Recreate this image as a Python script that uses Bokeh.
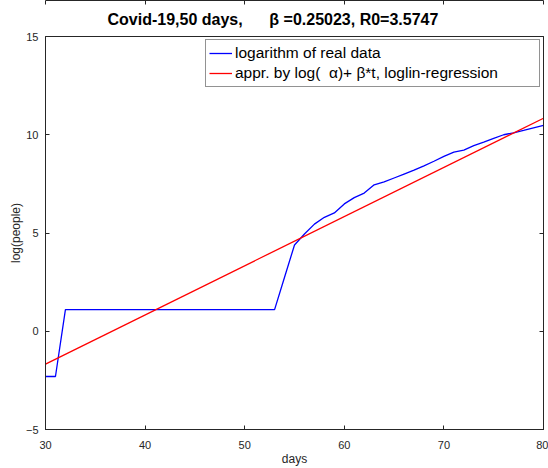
from bokeh.plotting import figure
from bokeh.models import Legend, LegendItem, LinearAxis, FixedTicker, Title
from bokeh.embed import file_html
from bokeh.resources import INLINE

# data
days = list(range(30, 81))
log_real = [-2.303, -2.303, 1.0986] + [1.0986] * 21 + [
    2.75, 4.39, 4.95, 5.45, 5.80, 6.02, 6.48, 6.80, 7.03, 7.45, 7.60,
    7.80, 8.00, 8.20, 8.42, 8.65, 8.90, 9.12, 9.22, 9.45, 9.63, 9.82,
    10.00, 10.10, 10.22, 10.35, 10.48]
fit_days = [30, 80]
fit_vals = [-1.67, 10.84]
x_ticks = [30, 40, 50, 60, 70, 80]
y_ticks = [-5, 0, 5, 10, 15]

title_text = "Covid-19,50 days,\u00a0\u00a0\u00a0\u00a0\u00a0\u00a0\u03b2 =0.25023, R0=3.5747"
legend_labels = ["logarithm of real data",
                 "appr. by log(\u00a0\u00a0\u03b1)+ \u03b2*t, loglin-regression"]

FONT = "Liberation Sans"
AX = "#262626"

p = figure(width=548, height=468, x_range=(30, 80), y_range=(-5, 15),
           output_backend="svg", toolbar_location=None,
           min_border_left=45, min_border_right=5, min_border_top=0, min_border_bottom=37)
p.title = None
t = Title(text=title_text, align="left", offset=62, text_font=FONT,
          text_font_size="16px", text_font_style="bold", text_color="black", standoff=17)
p.add_layout(t, "above")

p.grid.visible = False
p.outline_line_color = AX
p.outline_line_width = 1
p.background_fill_color = "white"
p.border_fill_color = "white"

for ax in (p.xaxis[0], p.yaxis[0]):
    ax.axis_line_color = AX
    ax.major_tick_in = 4
    ax.major_tick_out = 0
    ax.minor_tick_line_color = None
    ax.major_tick_line_color = AX
    ax.major_label_text_font = FONT
    ax.major_label_text_font_size = "11px"
    ax.major_label_text_color = AX
    ax.axis_label_text_font = FONT
    ax.axis_label_text_font_size = "12px"
    ax.axis_label_text_font_style = "normal"
    ax.axis_label_text_color = AX
p.xaxis[0].ticker = FixedTicker(ticks=x_ticks)
p.yaxis[0].ticker = FixedTicker(ticks=y_ticks)
p.xaxis[0].axis_label = "days"
p.yaxis[0].axis_label = "log(people)"
p.xaxis[0].major_label_standoff = 11
p.xaxis[0].axis_label_standoff = 0
p.yaxis[0].major_label_standoff = 7
p.yaxis[0].axis_label_standoff = 0

for side, ticks in (("above", x_ticks), ("right", y_ticks)):
    a = LinearAxis(ticker=FixedTicker(ticks=ticks))
    a.major_label_overrides = {tk: "" for tk in ticks}
    a.major_label_text_font_size = "1px"
    a.major_label_standoff = 0
    a.axis_line_color = AX
    a.major_tick_in = 4
    a.major_tick_out = 0
    a.minor_tick_line_color = None
    a.major_tick_line_color = AX
    p.add_layout(a, side)

r1 = p.line(days, log_real, line_color="#0000ff", line_width=1.3)
r2 = p.line(fit_days, fit_vals, line_color="#ff0000", line_width=1.3)

leg = Legend(items=[LegendItem(label=legend_labels[0], renderers=[r1]),
                    LegendItem(label=legend_labels[1], renderers=[r2])],
             location="top_right")
leg.margin = 3
leg.padding = 3
leg.spacing = 0
leg.glyph_height = 20
leg.glyph_width = 23
leg.label_standoff = 3
leg.label_width = 301
leg.label_text_font = FONT
leg.label_text_font_size = "15.5px"
leg.label_text_color = "black"
leg.border_line_color = AX
leg.border_line_width = 1
leg.background_fill_alpha = 1
p.add_layout(leg, "center")

open("out.html", "w").write(file_html(p, INLINE))
